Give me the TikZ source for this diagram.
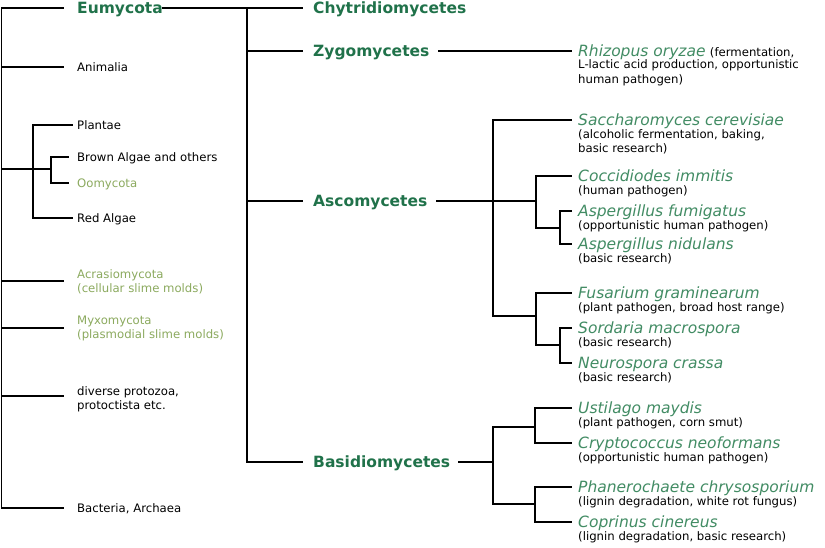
\documentclass[tikz,border=0pt]{standalone}
\usepackage{fontspec}
\setmainfont{DejaVu Sans}
\definecolor{tgreen}{RGB}{32,114,74}
\definecolor{sgreen}{RGB}{66,140,100}
\definecolor{lgreen}{RGB}{140,170,95}
\begin{document}
\begin{tikzpicture}[x=1pt,y=-1pt,
  conn/.style={line width=1.9pt, black, line cap=rect},
  big/.style={font=\fontsize{15.5}{18}\selectfont\bfseries, text=tgreen, anchor=west, inner sep=0pt, text height=11.3pt, text depth=0pt},
  spec/.style={font=\fontsize{15.5}{18}\selectfont\itshape, text=sgreen, anchor=west, inner sep=0pt, text height=11.3pt, text depth=0pt},
  small/.style={font=\fontsize{11.7}{14}\selectfont, text=black, anchor=west, inner sep=0pt, text height=8.5pt, text depth=0pt},
  subl/.style={font=\fontsize{11.7}{14}\selectfont, text=black, anchor=base west, inner sep=0pt},
]
\useasboundingbox (0,0) rectangle (825,548);
\fill[white] (0,0) rectangle (825,548);

% ---------- left column ----------
\node[big] (eumy) at (77,8) {Eumycota};
\node[small] (anim) at (77,67) {Animalia};
\node[small] (plan) at (77,125) {Plantae};
\node[small] (brown) at (77,157) {Brown Algae and others};
\node[small, text=lgreen] (oomy) at (77,183) {Oomycota};
\node[small] (red) at (77,218) {Red Algae};
\node[subl, text=lgreen] (acr1) at (77,278.5) {Acrasiomycota};
\node[subl, text=lgreen] (acr2) at (77,292.5) {(cellular slime molds)};
\node[subl, text=lgreen] (myx1) at (77,324.5) {Myxomycota};
\node[subl, text=lgreen] (myx2) at (77,338.5) {(plasmodial slime molds)};
\node[subl] (div1) at (77,395) {diverse protozoa,};
\node[subl] (div2) at (77,409) {protoctista etc.};
\node[small] (bact) at (77,508) {Bacteria, Archaea};

\coordinate (Lt) at (1.5,8);
\coordinate (Lb) at (1.5,508);
\coordinate (P) at (33,169);
\coordinate (Q) at (51,169);
\coordinate (acr) at (63,281);
\coordinate (myx) at (63,328);
\coordinate (div) at (63,396);

\draw[conn] (Lt) -- (Lb);
\draw[conn, shorten >=14pt] (Lt) -- (eumy.west);
\draw[conn, shorten >=14pt] (Lt |- anim.west) -- (anim.west);
\draw[conn] (Lt |- P) -- (Q);
\draw[conn] (P |- plan.west) -- (P |- red.west);
\draw[conn, shorten >=5pt] (P |- plan.west) -- (plan.west);
\draw[conn, shorten >=5pt] (P |- red.west) -- (red.west);
\draw[conn] (Q |- brown.west) -- (Q |- oomy.west);
\draw[conn, shorten >=9pt] (Q |- brown.west) -- (brown.west);
\draw[conn, shorten >=9pt] (Q |- oomy.west) -- (oomy.west);
\draw[conn] (Lt |- acr) -- (acr);
\draw[conn] (Lt |- myx) -- (myx);
\draw[conn] (Lt |- div) -- (div);
\draw[conn, shorten >=14pt] (Lb) -- (bact.west);

% ---------- middle column ----------
\node[big] (chyt) at (313,8) {Chytridiomycetes};
\node[big] (zygo) at (313,51) {Zygomycetes};
\node[big] (asco) at (313,201) {Ascomycetes};
\node[big] (basi) at (313,462) {Basidiomycetes};

\coordinate (Mt) at (247,8);
\coordinate (Mb) at (247,462);
\draw[conn] (Mt) -- (Mb);
\draw[conn, shorten >=11pt] (eumy.east) -- (chyt.west);
\draw[conn, shorten >=11pt] (Mt |- zygo.west) -- (zygo.west);
\draw[conn, shorten >=11pt] (Mt |- asco.west) -- (asco.west);
\draw[conn, shorten >=11pt] (Mb) -- (basi.west);

% ---------- species ----------
\node[spec] (rhiz) at (578,51) {Rhizopus oryzae};
\node[subl] (rhiz-b) at ([xshift=4pt]rhiz.base east) {(fermentation,};
\node[subl] (rhiz-c) at (578,69) {L-lactic acid production, opportunistic};
\node[subl] (rhiz-d) at (578,83.5) {human pathogen)};

\node[spec] (sacc) at (578,120) {Saccharomyces cerevisiae};
\node[subl] (sacc-b) at (578,138.5) {(alcoholic fermentation, baking,};
\node[subl] (sacc-c) at (578,152.5) {basic research)};

\node[spec] (cocc) at (578,176) {Coccidiodes immitis};
\node[subl] (cocc-b) at (578,194.5) {(human pathogen)};

\node[spec] (afum) at (578,211) {Aspergillus fumigatus};
\node[subl] (afum-b) at (578,229.5) {(opportunistic human pathogen)};

\node[spec] (anid) at (578,244) {Aspergillus nidulans};
\node[subl] (anid-b) at (578,262.5) {(basic research)};

\node[spec] (fus) at (578,293) {Fusarium graminearum};
\node[subl] (fus-b) at (578,311.5) {(plant pathogen, broad host range)};

\node[spec] (sord) at (578,328) {Sordaria macrospora};
\node[subl] (sord-b) at (578,346.5) {(basic research)};

\node[spec] (neur) at (578,363) {Neurospora crassa};
\node[subl] (neur-b) at (578,381.5) {(basic research)};

\node[spec] (ust) at (578,408) {Ustilago maydis};
\node[subl] (ust-b) at (578,426.5) {(plant pathogen, corn smut)};

\node[spec] (cryp) at (578,443) {Cryptococcus neoformans};
\node[subl] (cryp-b) at (578,461.5) {(opportunistic human pathogen)};

\node[spec] (phan) at (578,487) {Phanerochaete chrysosporium};
\node[subl] (phan-b) at (578,505.5) {(lignin degradation, white rot fungus)};

\node[spec] (copr) at (578,522) {Coprinus cinereus};
\node[subl] (copr-b) at (578,540.5) {(lignin degradation, basic research)};

% Zygomycetes
\draw[conn, shorten <=9pt, shorten >=7pt] (zygo.east) -- (rhiz.west);

% Ascomycetes
\coordinate (Aj) at (493,201);
\coordinate (Cj) at (536,201);
\coordinate (Fj) at (536,316);
\coordinate (Gj) at (560,228);
\coordinate (Sj) at (560,345);
\draw[conn, shorten <=9pt] (asco.east) -- (Cj);
\draw[conn] (Aj |- sacc.west) -- (Aj |- Fj) -- (Fj);
\draw[conn, shorten >=7pt] (Aj |- sacc.west) -- (sacc.west);
\draw[conn] (Cj |- cocc.west) -- (Cj |- Gj) -- (Gj);
\draw[conn, shorten >=7pt] (Cj |- cocc.west) -- (cocc.west);
\draw[conn] (Gj |- afum.west) -- (Gj |- anid.west);
\draw[conn, shorten >=7pt] (Gj |- afum.west) -- (afum.west);
\draw[conn, shorten >=7pt] (Gj |- anid.west) -- (anid.west);
\draw[conn] (Fj |- fus.west) -- (Fj |- Sj) -- (Sj);
\draw[conn, shorten >=7pt] (Fj |- fus.west) -- (fus.west);
\draw[conn] (Sj |- sord.west) -- (Sj |- neur.west);
\draw[conn, shorten >=7pt] (Sj |- sord.west) -- (sord.west);
\draw[conn, shorten >=7pt] (Sj |- neur.west) -- (neur.west);

% Basidiomycetes
\coordinate (Bj) at (493,462);
\coordinate (Uj) at (535,427);
\coordinate (Pj) at (535,504);
\draw[conn, shorten <=9pt] (basi.east) -- (Bj);
\draw[conn] (Uj) -- (Bj |- Uj) -- (Bj |- Pj) -- (Pj);
\draw[conn] (Uj |- ust.west) -- (Uj |- cryp.west);
\draw[conn, shorten >=7pt] (Uj |- ust.west) -- (ust.west);
\draw[conn, shorten >=7pt] (Uj |- cryp.west) -- (cryp.west);
\draw[conn] (Pj |- phan.west) -- (Pj |- copr.west);
\draw[conn, shorten >=7pt] (Pj |- phan.west) -- (phan.west);
\draw[conn, shorten >=7pt] (Pj |- copr.west) -- (copr.west);
\end{tikzpicture}
\end{document}
